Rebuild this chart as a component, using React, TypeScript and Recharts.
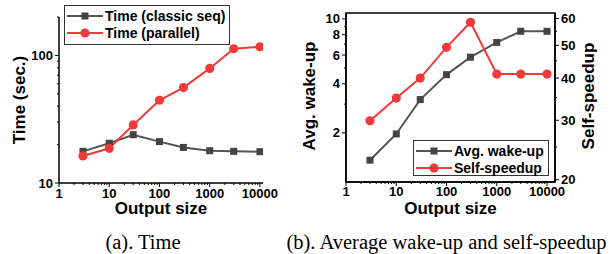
import React from 'react';
import { LineChart, Line, XAxis, YAxis, Legend, ReferenceArea } from 'recharts';

// output sizes (x axis, log)
const outputSizes = [3, 10, 30, 100, 300, 1000, 3000, 10000];

// (a) time in seconds
const timeClassicSeq = [17.7, 20.5, 23.9, 21.1, 19.0, 17.9, 17.7, 17.6];
const timeParallel = [16.3, 18.7, 28.5, 44.5, 56.0, 79.1, 112.8, 116.9];

// (b) average wake-up (left axis) and self-speedup (right axis)
const avgWakeUp = [1.36, 1.97, 3.2, 4.55, 5.82, 7.17, 8.39, 8.39];
const selfSpeedup = [29.9, 34.9, 40.0, 49.3, 58.5, 41.1, 41.1, 41.1];

// tick values
const xMajor = [1, 10, 100, 1000, 10000];
const xTicks = [1, 2, 3, 4, 5, 6, 7, 8, 9, 10, 20, 30, 40, 50, 60, 70, 80, 90, 100, 200, 300, 400, 500, 600, 700, 800, 900, 1000, 2000, 3000, 4000, 5000, 6000, 7000, 8000, 9000, 10000];
const timeMajor = [10, 100];
const timeTicks = [10, 20, 30, 40, 50, 60, 70, 80, 90, 100, 200];
const wakeMajor = [2, 4, 6, 8, 10];
const wakeTicks = [2, 3, 4, 5, 6, 7, 8, 9, 10];
const speedMajor = [20, 30, 40, 50, 60];
const speedTicks = [20, 25, 30, 35, 40, 45, 50, 55, 60];

const timeData = outputSizes.map((s, i) => ({ size: s, classic: timeClassicSeq[i], parallel: timeParallel[i] }));
const wakeData = outputSizes.map((s, i) => ({ size: s, wake: avgWakeUp[i], speedup: selfSpeedup[i] }));

const GRAY = '#555555';
const GRAY_MARK = '#444444';
const RED = '#f23a3a';
const FONT = 'Liberation Sans, Arial, sans-serif';

const Square = (props: any) => {
  const { cx, cy } = props;
  if (cx == null || cy == null) return <g />;
  return <rect x={cx - 3.5} y={cy - 3.5} width={7} height={7} fill={GRAY_MARK} />;
};

const Dot = (props: any) => {
  const { cx, cy } = props;
  if (cx == null || cy == null) return <g />;
  return <circle cx={cx} cy={cy} r={4.6} fill={RED} />;
};

const makeXTick = (dy: number) => (props: any) => {
  const { x, y, payload } = props;
  const major = xMajor.includes(payload.value);
  return (
    <g>
      <line x1={x} x2={x} y1={y} y2={y + (major ? 4 : 2)} stroke="#000" strokeWidth={1} />
      {major && (
        <text x={x} y={y + dy} textAnchor="middle" dominantBaseline="central" fontSize={13} fontWeight="bold" fontFamily={FONT} fill="#000">
          {payload.value}
        </text>
      )}
    </g>
  );
};

const makeYTick = (majors: number[], side: 'left' | 'right') => (props: any) => {
  const { x, y, payload } = props;
  const major = majors.includes(payload.value);
  const s = side === 'left' ? -1 : 1;
  return (
    <g>
      <line x1={x} x2={x + s * (major ? 4 : 2)} y1={y} y2={y} stroke="#000" strokeWidth={1} />
      {major && (
        <text x={x + s * 6} y={y} textAnchor={side === 'left' ? 'end' : 'start'} dominantBaseline="central" fontSize={13} fontWeight="bold" fontFamily={FONT} fill="#000">
          {payload.value}
        </text>
      )}
    </g>
  );
};

const axisTitle = (text: string, dx: number, dy: number, rotate: boolean) => (props: any) => {
  const vb = props.viewBox || {};
  const x = (vb.x || 0) + dx;
  const y = (vb.y || 0) + dy;
  return (
    <text
      x={x}
      y={y}
      textAnchor="middle"
      dominantBaseline="central"
      transform={rotate ? `rotate(-90, ${x}, ${y})` : undefined}
      fontSize={17}
      fontWeight="bold"
      fontFamily={FONT}
      fill="#000"
    >
      {text}
    </text>
  );
};

const LegendIcon = ({ kind }: { kind: string }) => (
  <svg width={36} height={12} style={{ display: 'block' }}>
    <line x1={0} x2={36} y1={6} y2={6} stroke={kind === 'square' ? GRAY : RED} strokeWidth={2} />
    {kind === 'square' ? <rect x={14.5} y={2.5} width={7} height={7} fill={GRAY_MARK} /> : <circle cx={18} cy={6} r={4.6} fill={RED} />}
  </svg>
);

const makeLegend = (items: { label: string; kind: string }[], w: number, h: number) => () => (
  <div style={{ width: w, height: h, border: '1px solid #333', boxSizing: 'border-box', background: '#fff', padding: '1px 0 0 2px' }}>
    {items.map((it) => (
      <div key={it.label} style={{ display: 'flex', alignItems: 'center', height: 17, gap: 2 }}>
        <LegendIcon kind={it.kind} />
        <span style={{ fontFamily: FONT, fontWeight: 'bold', fontSize: 14, whiteSpace: 'nowrap', color: '#000' }}>{it.label}</span>
      </div>
    ))}
  </div>
);

const caption: React.CSSProperties = {
  position: 'absolute',
  top: 231,
  fontFamily: 'Liberation Serif, Times New Roman, serif',
  fontSize: 20.5,
  whiteSpace: 'nowrap',
  transform: 'translateX(-50%)',
};

const App = () => {
  return (
    <div style={{ position: 'absolute', left: 0, top: 0, width: 616, height: 254, background: '#fff' }}>
      <div style={{ position: 'absolute', left: 0, top: 0 }}>
        <LineChart width={300} height={224} data={timeData} margin={{ top: 17, right: 37, bottom: 9, left: 0 }}>
          <XAxis
            dataKey="size"
            type="number"
            scale="log"
            domain={[1, 11500]}
            ticks={xTicks}
            interval={0}
            tickSize={0}
            tickMargin={0}
            tick={makeXTick(10)}
            height={32}
            stroke="#000"
            strokeWidth={1.5}
            allowDataOverflow
            label={{ content: axisTitle('Output size', 102, 25.5, false) }}
          />
          <YAxis
            type="number"
            scale="log"
            domain={[10, 200]}
            ticks={timeTicks}
            interval={0}
            tickSize={0}
            tickMargin={0}
            tick={makeYTick(timeMajor, 'left')}
            width={59}
            stroke="#000"
            strokeWidth={1.5}
            allowDataOverflow
            label={{ content: axisTitle('Time (sec.)', 19, 83, true) }}
          />
          <Legend
            layout="vertical"
            align="center"
            verticalAlign="middle"
            wrapperStyle={{ left: 64, top: 5, width: 166, height: 40 }}
            content={makeLegend([{ label: 'Time (classic seq)', kind: 'square' }, { label: 'Time (parallel)', kind: 'circle' }], 166, 40)}
          />
          <Line dataKey="classic" name="Time (classic seq)" stroke={GRAY} strokeWidth={2} dot={<Square />} isAnimationActive={false} />
          <Line dataKey="parallel" name="Time (parallel)" stroke={RED} strokeWidth={2} dot={<Dot />} isAnimationActive={false} />
        </LineChart>
      </div>
      <div style={{ position: 'absolute', left: 300, top: 0 }}>
        <LineChart width={316} height={224} data={wakeData} margin={{ top: 13, right: 0, bottom: 9, left: 0 }}>
          <XAxis
            dataKey="size"
            type="number"
            scale="log"
            domain={[1, 14400]}
            ticks={xTicks}
            interval={0}
            tickSize={0}
            tickMargin={0}
            tick={makeXTick(9.5)}
            height={33}
            stroke="#000"
            strokeWidth={1.5}
            allowDataOverflow
            label={{ content: axisTitle('Output size', 104.5, 26, false) }}
          />
          <YAxis
            yAxisId="left"
            type="number"
            scale="log"
            domain={[1, 10.86]}
            ticks={wakeTicks}
            interval={0}
            tickSize={0}
            tickMargin={0}
            tick={makeYTick(wakeMajor, 'left')}
            width={46}
            stroke="#000"
            strokeWidth={1.5}
            allowDataOverflow
            label={{ content: axisTitle('Avg. wake-up', 9, 83, true) }}
          />
          <YAxis
            yAxisId="right"
            orientation="right"
            type="number"
            scale="log"
            domain={[19.7, 62.3]}
            ticks={speedTicks}
            interval={0}
            tickSize={0}
            tickMargin={0}
            tick={makeYTick(speedMajor, 'right')}
            width={61}
            stroke="#000"
            strokeWidth={1.5}
            allowDataOverflow
            label={{ content: axisTitle('Self-speedup', 33, 83, true) }}
          />
          <ReferenceArea yAxisId="left" x1={1} x2={14400} y1={1} y2={10.86} fill="none" stroke="#000" strokeWidth={1.5} ifOverflow="visible" />
          <Legend
            layout="vertical"
            align="center"
            verticalAlign="middle"
            wrapperStyle={{ left: 113, top: 140, width: 136, height: 36 }}
            content={makeLegend([{ label: 'Avg. wake-up', kind: 'square' }, { label: 'Self-speedup', kind: 'circle' }], 136, 36)}
          />
          <Line yAxisId="left" dataKey="wake" name="Avg. wake-up" stroke={GRAY} strokeWidth={2} dot={<Square />} isAnimationActive={false} />
          <Line yAxisId="right" dataKey="speedup" name="Self-speedup" stroke={RED} strokeWidth={2} dot={<Dot />} isAnimationActive={false} />
        </LineChart>
      </div>
      <div style={{ ...caption, left: 143 }}>(a). Time</div>
      <div style={{ ...caption, left: 446.5 }}>(b). Average wake-up and self-speedup</div>
    </div>
  );
};

export default App;
